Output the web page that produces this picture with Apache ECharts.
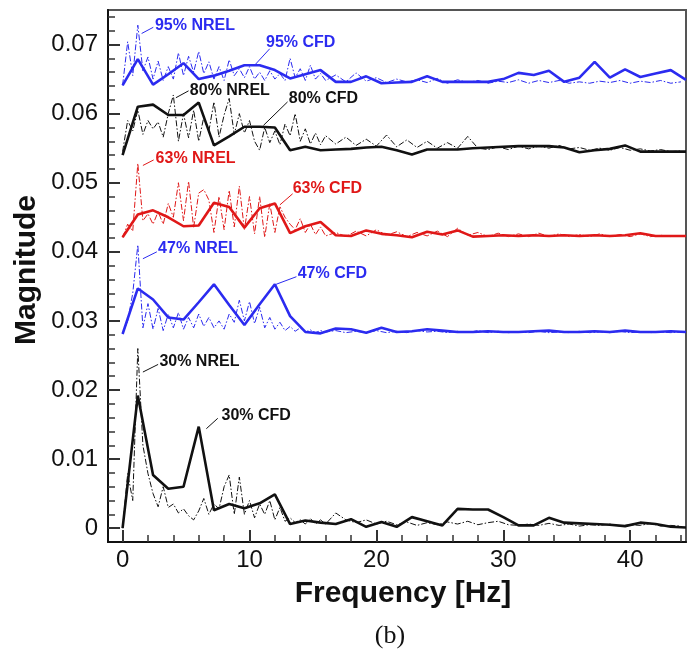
<!DOCTYPE html>
<html>
<head>
<meta charset="utf-8">
<script src="https://cdn.jsdelivr.net/npm/echarts@6/dist/echarts.min.js"></script>
<style>html,body{margin:0;padding:0;background:#fff}#c{width:689px;height:656px}</style>
</head>
<body>
<div id="c"></div>
<script>
// ---- DATA ----
const cfdFreq = [0,1.2,2.4,3.6,4.8,6.0,7.2,8.4,9.6,10.8,12.0,13.2,14.4,15.6,16.8,18.0,19.2,20.4,21.6,22.8,24.0,25.2,26.4,27.6,28.8,30.0,31.2,32.4,33.6,34.8,36.0,37.2,38.4,39.6,40.8,42.0,43.2,44.4];
const cfd95 = [0.0641,0.0679,0.0642,0.0657,0.0673,0.0650,0.0655,0.0662,0.0670,0.0670,0.0663,0.0651,0.0657,0.0663,0.0646,0.0646,0.0654,0.0644,0.0645,0.0646,0.0654,0.0646,0.0646,0.0646,0.0646,0.0650,0.0659,0.0656,0.0662,0.0646,0.0652,0.0675,0.0652,0.0664,0.0653,0.0658,0.0663,0.0649];
const cfd80 = [0.0540,0.0610,0.0613,0.0598,0.0598,0.0616,0.0554,0.0567,0.0581,0.0581,0.0580,0.0547,0.0552,0.0547,0.0548,0.0549,0.0551,0.0552,0.0547,0.0541,0.0548,0.0548,0.0548,0.0550,0.0551,0.0552,0.0553,0.0553,0.0553,0.0551,0.0544,0.0547,0.0549,0.0554,0.0545,0.0545,0.0545,0.0545];
const cfd63 = [0.0421,0.0454,0.0460,0.0450,0.0437,0.0438,0.0471,0.0465,0.0435,0.0463,0.0470,0.0427,0.0437,0.0443,0.0424,0.0423,0.0431,0.0426,0.0424,0.0421,0.0429,0.0425,0.0431,0.0422,0.0423,0.0424,0.0423,0.0424,0.0423,0.0424,0.0423,0.0424,0.0423,0.0424,0.0427,0.0423,0.0423,0.0423];
const cfd47 = [0.0281,0.0347,0.0331,0.0305,0.0302,0.0327,0.0353,0.0323,0.0294,0.0324,0.0353,0.0307,0.0284,0.0282,0.0289,0.0288,0.0283,0.0290,0.0284,0.0285,0.0288,0.0286,0.0284,0.0284,0.0285,0.0284,0.0284,0.0285,0.0286,0.0284,0.0284,0.0285,0.0284,0.0286,0.0284,0.0284,0.0285,0.0284];
const cfd30 = [0.0000,0.0192,0.0077,0.0057,0.0060,0.0147,0.0026,0.0035,0.0029,0.0036,0.0049,0.0006,0.0011,0.0008,0.0006,0.0013,0.0002,0.0009,0.0002,0.0016,0.0010,0.0004,0.0028,0.0027,0.0027,0.0016,0.0004,0.0004,0.0015,0.0008,0.0007,0.0006,0.0005,0.0003,0.0008,0.0006,0.0002,0.0001];

const nrelFreq = [0,0.4,0.8,1.2,1.6,2.0,2.4,2.8,3.2,3.6,4.0,4.4,4.8,5.2,5.6,6.0,6.4,6.8,7.2,7.6,8.0,8.4,8.8,9.2,9.6,10.0,10.4,10.8,11.2,11.6,12.0,12.4,12.8,13.2,13.6,14.0,14.4,14.8,15.2,15.6,16.0,16.8,17.6,18.4,19.2,20.0,20.8,21.6,22.4,23.2,24.0,24.8,25.6,26.4,27.2,28.0,28.8,29.6,30.4,31.2,32.0,32.8,33.6,34.4,35.2,36.0,36.8,37.6,38.4,39.2,40.0,40.8,41.6,42.4,43.2,44.0];
const nrel95 = [0.0641,0.0704,0.0655,0.0728,0.0662,0.0682,0.0650,0.0676,0.0648,0.0668,0.0650,0.0688,0.0655,0.0683,0.0660,0.0690,0.0658,0.0675,0.0650,0.0668,0.0648,0.0678,0.0655,0.0665,0.0652,0.0668,0.0650,0.0660,0.0648,0.0662,0.0650,0.0658,0.0648,0.0680,0.0652,0.0665,0.0648,0.0670,0.0650,0.0658,0.0648,0.0656,0.0646,0.0659,0.0647,0.0652,0.0645,0.0650,0.0646,0.0649,0.0645,0.0651,0.0644,0.0649,0.0645,0.0648,0.0644,0.0647,0.0645,0.0649,0.0644,0.0648,0.0645,0.0648,0.0644,0.0646,0.0644,0.0647,0.0645,0.0648,0.0644,0.0647,0.0645,0.0648,0.0644,0.0646];
const nrel80 = [0.0545,0.0590,0.0575,0.0605,0.0570,0.0590,0.0578,0.0588,0.0566,0.0600,0.0627,0.0560,0.0600,0.0565,0.0605,0.0560,0.0595,0.0575,0.0617,0.0566,0.0598,0.0622,0.0570,0.0600,0.0572,0.0590,0.0560,0.0547,0.0580,0.0558,0.0575,0.0555,0.0585,0.0568,0.0600,0.0560,0.0578,0.0556,0.0572,0.0555,0.0568,0.0556,0.0566,0.0554,0.0563,0.0553,0.0569,0.0552,0.0562,0.0551,0.0560,0.0550,0.0558,0.0550,0.0567,0.0550,0.0548,0.0552,0.0548,0.0553,0.0549,0.0553,0.0550,0.0554,0.0549,0.0551,0.0547,0.0550,0.0547,0.0551,0.0547,0.0549,0.0546,0.0548,0.0545,0.0546];
const nrel63 = [0.0421,0.0440,0.0430,0.0528,0.0445,0.0455,0.0440,0.0458,0.0440,0.0470,0.0450,0.0500,0.0445,0.0502,0.0435,0.0485,0.0490,0.0475,0.0428,0.0480,0.0432,0.0489,0.0436,0.0495,0.0432,0.0480,0.0426,0.0480,0.0421,0.0470,0.0428,0.0465,0.0450,0.0440,0.0432,0.0448,0.0428,0.0440,0.0425,0.0436,0.0423,0.0428,0.0422,0.0430,0.0423,0.0432,0.0424,0.0429,0.0422,0.0428,0.0423,0.0430,0.0422,0.0434,0.0424,0.0428,0.0422,0.0427,0.0422,0.0426,0.0422,0.0427,0.0422,0.0426,0.0422,0.0425,0.0422,0.0426,0.0422,0.0425,0.0422,0.0426,0.0422,0.0424,0.0422,0.0423];
const nrel47 = [0.0281,0.0300,0.0340,0.0410,0.0290,0.0325,0.0288,0.0318,0.0286,0.0310,0.0290,0.0312,0.0288,0.0305,0.0290,0.0310,0.0292,0.0305,0.0290,0.0300,0.0288,0.0310,0.0298,0.0330,0.0300,0.0328,0.0296,0.0320,0.0290,0.0305,0.0288,0.0298,0.0286,0.0292,0.0285,0.0290,0.0284,0.0287,0.0283,0.0286,0.0284,0.0286,0.0283,0.0285,0.0283,0.0286,0.0283,0.0285,0.0283,0.0286,0.0284,0.0285,0.0283,0.0285,0.0283,0.0286,0.0283,0.0285,0.0283,0.0284,0.0283,0.0285,0.0283,0.0284,0.0283,0.0285,0.0283,0.0284,0.0283,0.0285,0.0283,0.0284,0.0283,0.0284,0.0283,0.0284];
const nrel30 = [0.0000,0.0079,0.0040,0.0260,0.0120,0.0079,0.0050,0.0031,0.0060,0.0030,0.0035,0.0022,0.0028,0.0018,0.0012,0.0025,0.0043,0.0020,0.0035,0.0028,0.0060,0.0077,0.0020,0.0074,0.0020,0.0040,0.0015,0.0035,0.0020,0.0040,0.0012,0.0030,0.0010,0.0015,0.0008,0.0012,0.0006,0.0014,0.0006,0.0012,0.0006,0.0022,0.0012,0.0008,0.0012,0.0006,0.0010,0.0005,0.0009,0.0004,0.0008,0.0005,0.0009,0.0006,0.0010,0.0005,0.0008,0.0010,0.0005,0.0004,0.0006,0.0004,0.0007,0.0004,0.0006,0.0003,0.0005,0.0004,0.0006,0.0003,0.0005,0.0004,0.0007,0.0003,0.0004,0.0003];

const xLabelVals = [0,10,20,30,40];
const xMinorVals = [2,4,6,8,12,14,16,18,22,24,26,28,32,34,36,38,42,44];
const yLabelVals = [0,0.01,0.02,0.03,0.04,0.05,0.06,0.07];
const yMinorVals = [0.002,0.004,0.006,0.008,0.012,0.014,0.016,0.018,0.022,0.024,0.026,0.028,0.032,0.034,0.036,0.038,0.042,0.044,0.046,0.048,0.052,0.054,0.056,0.058,0.062,0.064,0.066,0.068,0.072,0.074];

// annotations: text, text anchor [freq, mag] (left/middle), leader from, leader to
const annoText = ['95% NREL','95% CFD','80% NREL','80% CFD','63% NREL','63% CFD','47% NREL','47% CFD','30% NREL','30% CFD'];
const annoPos  = [[2.55,0.0728],[11.3,0.0703],[5.3,0.0634],[13.1,0.0622],[2.6,0.0535],[13.4,0.0491],[2.8,0.0404],[13.8,0.0368],[2.9,0.0241],[7.8,0.0163]];
const leadFrom = [[2.42,0.0725],[11.6,0.0694],[5.2,0.0633],[13.0,0.0617],[2.45,0.0533],[13.4,0.0484],[2.7,0.0400],[13.7,0.0364],[2.8,0.0237],[7.5,0.0159]];
const leadTo   = [[1.5,0.0716],[10.4,0.0670],[4.2,0.0623],[11.1,0.0583],[1.6,0.0525],[12.4,0.0468],[1.6,0.0390],[12.1,0.0353],[1.6,0.0226],[6.6,0.0144]];
const annoColor = ['#2b2bf0','#2b2bf0','#111','#111','#e01818','#e01818','#2b2bf0','#2b2bf0','#111','#111'];

// ---- CHART ----
const BLUE = '#2b2bf0', RED = '#e01818', BLACK = '#111';
const zip = (xs, ys) => xs.map((x, i) => [x, ys[i]]);
const FONT = 'Liberation Sans, Arial, sans-serif';

function nrelSeries(name, ys, color) {
  return { name, type: 'line', data: zip(nrelFreq, ys), showSymbol: false, silent: true,
    lineStyle: { color, width: 1, type: [6, 2, 1.5, 2] }, z: 2 };
}
function cfdSeries(name, ys, color) {
  return { name, type: 'line', data: zip(cfdFreq, ys), showSymbol: false, silent: true,
    lineStyle: { color, width: 2.6 }, z: 3 };
}

const series = [
  nrelSeries('95% NREL', nrel95, BLUE),
  nrelSeries('80% NREL', nrel80, BLACK),
  nrelSeries('63% NREL', nrel63, RED),
  nrelSeries('47% NREL', nrel47, BLUE),
  nrelSeries('30% NREL', nrel30, BLACK),
  cfdSeries('95% CFD', cfd95, BLUE),
  cfdSeries('80% CFD', cfd80, BLACK),
  cfdSeries('63% CFD', cfd63, RED),
  cfdSeries('47% CFD', cfd47, BLUE),
  cfdSeries('30% CFD', cfd30, BLACK),
  { type: 'lines', coordinateSystem: 'cartesian2d', silent: true, z: 4,
    data: leadFrom.map((p, i) => ({ coords: [p, leadTo[i]], lineStyle: { color: annoColor[i] } })),
    lineStyle: { width: 1, opacity: 1 } },
  { type: 'scatter', silent: true, symbolSize: 0, z: 5,
    itemStyle: { opacity: 1 },
    data: annoPos.map((p, i) => ({ value: p, label: { color: annoColor[i], opacity: 1 } })),
    label: { show: true, position: 'right', distance: 0, opacity: 1, fontFamily: FONT, fontWeight: 'bold', fontSize: 16,
      formatter: (p) => annoText[p.dataIndex] } }
];

const axisLineStyle = { color: '#111', width: 2 };
const chart = echarts.init(document.getElementById('c'), null, { renderer: 'canvas' });
chart.setOption({
  animation: false,
  backgroundColor: '#fff',
  grid: { left: 108, right: 3, top: 10, bottom: 114, show: true, borderColor: '#555', borderWidth: 2, backgroundColor: 'transparent' },
  xAxis: [
    { type: 'value', min: -1.15, max: 44.4, position: 'bottom',
      axisLine: { show: true, onZero: false, lineStyle: axisLineStyle },
      axisTick: { show: true, inside: true, length: 12, lineStyle: { color: '#333', width: 2 }, customValues: xLabelVals },
      axisLabel: { customValues: xLabelVals, fontFamily: FONT, fontSize: 24, color: '#111', margin: 6 },
      splitLine: { show: false } },
    { type: 'value', min: -1.15, max: 44.4, position: 'bottom',
      axisLine: { show: false, onZero: false },
      axisTick: { show: true, inside: true, length: 7, lineStyle: { color: '#333', width: 1.5 }, customValues: xMinorVals },
      axisLabel: { show: false }, splitLine: { show: false } }
  ],
  yAxis: [
    { type: 'value', min: -0.002, max: 0.075, position: 'left',
      axisLine: { show: true, onZero: false, lineStyle: axisLineStyle },
      axisTick: { show: true, inside: true, length: 12, lineStyle: { color: '#333', width: 2 }, customValues: yLabelVals },
      axisLabel: { customValues: yLabelVals, fontFamily: FONT, fontSize: 24, color: '#111', margin: 10,
        formatter: (v) => v === 0 ? '0' : v.toFixed(2) },
      splitLine: { show: false } },
    { type: 'value', min: -0.002, max: 0.075, position: 'left',
      axisLine: { show: false, onZero: false },
      axisTick: { show: true, inside: true, length: 7, lineStyle: { color: '#333', width: 1.5 }, customValues: yMinorVals },
      axisLabel: { show: false }, splitLine: { show: false } }
  ],
  graphic: [
    { type: 'text', x: 27, y: 270, rotation: Math.PI / 2,
      style: { text: 'Magnitude', font: 'bold 30px ' + FONT, fill: '#111', align: 'center', verticalAlign: 'middle' } },
    { type: 'text', x: 403, y: 594,
      style: { text: 'Frequency [Hz]', font: 'bold 30px ' + FONT, fill: '#111', align: 'center', verticalAlign: 'middle' } },
    { type: 'text', x: 390, y: 636,
      style: { text: '(b)', font: '26px Liberation Serif, Times New Roman, serif', fill: '#111', align: 'center', verticalAlign: 'middle' } }
  ],
  series
});
</script>
</body>
</html>
